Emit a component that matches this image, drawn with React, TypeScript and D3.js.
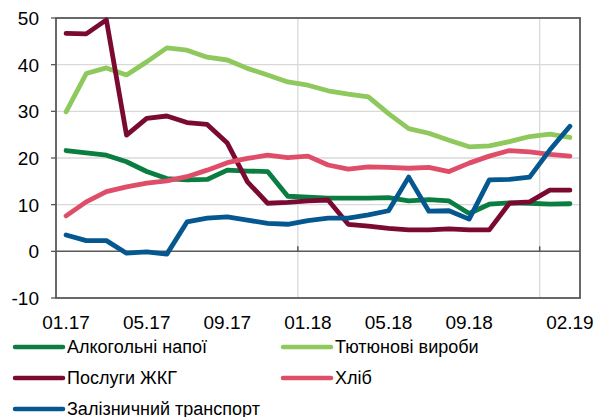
import React from 'react';
import * as d3 from 'd3';

const width = 597;
const height = 417;
const margin = { top: 18, right: 17, bottom: 119, left: 56 };

const months = [
  '01.17', '02.17', '03.17', '04.17', '05.17', '06.17', '07.17', '08.17', '09.17', '10.17', '11.17', '12.17',
  '01.18', '02.18', '03.18', '04.18', '05.18', '06.18', '07.18', '08.18', '09.18', '10.18', '11.18', '12.18',
  '01.19', '02.19'
];
const xTickLabels = ['01.17', '05.17', '09.17', '01.18', '05.18', '09.18', '02.19'];
const yearStarts = ['01.18', '01.19'];
const yTicks = [-10, 0, 10, 20, 30, 40, 50];

const alcohol = [21.6, 21.1, 20.6, 19.2, 17.1, 15.6, 15.3, 15.4, 17.4, 17.2, 17.1, 11.8, 11.6, 11.4, 11.4, 11.4, 11.5, 10.8, 11.1, 10.8, 8.1, 10.1, 10.4, 10.3, 10.1, 10.2];
const tobacco = [29.9, 38.1, 39.3, 37.8, 40.6, 43.6, 43.1, 41.6, 41.0, 39.2, 37.8, 36.3, 35.6, 34.4, 33.7, 33.1, 29.5, 26.3, 25.3, 23.8, 22.4, 22.6, 23.5, 24.6, 25.1, 24.4];
const utilities = [46.7, 46.6, 49.6, 24.9, 28.5, 29.0, 27.6, 27.2, 23.2, 14.9, 10.3, 10.5, 10.8, 11.0, 5.8, 5.4, 4.9, 4.6, 4.6, 4.8, 4.6, 4.6, 10.3, 10.6, 13.1, 13.1];
const bread = [7.6, 10.6, 12.8, 13.8, 14.6, 15.1, 16.0, 17.4, 19.0, 19.9, 20.6, 20.1, 20.4, 18.5, 17.6, 18.1, 18.0, 17.8, 18.0, 17.1, 18.9, 20.4, 21.6, 21.3, 20.8, 20.4];
const railway = [3.5, 2.3, 2.3, -0.4, -0.1, -0.6, 6.3, 7.1, 7.4, 6.7, 6.0, 5.8, 6.6, 7.1, 7.1, 7.8, 8.7, 15.9, 8.6, 8.7, 6.9, 15.3, 15.4, 15.9, 21.7, 26.8];

const series = [
  { name: 'Алкогольні напої', values: alcohol, color: '#0a7d40' },
  { name: 'Тютюнові вироби', values: tobacco, color: '#8fc85c' },
  { name: 'Послуги ЖКГ', values: utilities, color: '#7a0a32' },
  { name: 'Хліб', values: bread, color: '#df4e69' },
  { name: 'Залізничний транспорт', values: railway, color: '#05588f' }
];

const font = '"Liberation Sans", Arial, sans-serif';

export default function App() {
  const x = d3
    .scaleBand()
    .domain(months)
    .range([margin.left, width - margin.right])
    .padding(0);
  const y = d3
    .scaleLinear()
    .domain([-10, 50])
    .range([height - margin.bottom, margin.top]);
  const cx = (m: string) => (x(m) as number) + x.bandwidth() / 2;

  const line = d3
    .line<number>()
    .x((d, i) => cx(months[i]))
    .y(d => y(d));

  const left = margin.left;
  const right = width - margin.right;
  const top = margin.top;
  const bottom = height - margin.bottom;

  const legendRows = [347, 378, 409];
  const legendCols = [15, 283];

  return (
    <svg width={width} height={height} style={{ position: 'absolute', left: 0, top: 0, background: '#fff' }}>
      {/* grid */}
      {yTicks
        .filter(t => t !== 0 && t !== -10 && t !== 50)
        .map(t => (
          <line key={'gy' + t} x1={left} x2={right} y1={y(t)} y2={y(t)} stroke="#d9d9d9" strokeWidth={1.3} />
        ))}
      {yearStarts.map(m => (
        <line key={'gx' + m} x1={x(m)} x2={x(m)} y1={top} y2={bottom} stroke="#d9d9d9" strokeWidth={1.3} />
      ))}
      {/* zero axis */}
      <line x1={left} x2={right} y1={y(0)} y2={y(0)} stroke="#595959" strokeWidth={1.5} />
      {yearStarts.map(m => (
        <line key={'tk' + m} x1={x(m)} x2={x(m)} y1={y(0) - 5} y2={y(0)} stroke="#595959" strokeWidth={1.5} />
      ))}
      {/* frame */}
      <rect x={left} y={top} width={right - left} height={bottom - top} fill="none" stroke="#595959" strokeWidth={1.8} />
      {/* y labels */}
      {yTicks.map(t => (
        <line key={'yt' + t} x1={left - 5} x2={left} y1={y(t)} y2={y(t)} stroke="#595959" strokeWidth={1.3} />
      ))}
      {yTicks.map(t => (
        <text key={'yl' + t} x={39} y={y(t)} dy="0.36em" textAnchor="end" fontFamily={font} fontSize={19} fill="#000">
          {t}
        </text>
      ))}
      {/* x labels */}
      {xTickLabels.map(m => (
        <text key={'xl' + m} x={cx(m)} y={329} textAnchor="middle" fontFamily={font} fontSize={19} fill="#000">
          {m}
        </text>
      ))}
      {/* series */}
      {series.map(s => (
        <path
          key={s.name}
          d={line(s.values) as string}
          fill="none"
          stroke={s.color}
          strokeWidth={4.8}
          strokeLinejoin="round"
          strokeLinecap="round"
        />
      ))}
      {/* legend */}
      {series.map((s, i) => {
        const lx = legendCols[i % 2];
        const ly = legendRows[Math.floor(i / 2)];
        return (
          <g key={'lg' + s.name}>
            <line x1={lx} x2={lx + 48} y1={ly} y2={ly} stroke={s.color} strokeWidth={4.5} strokeLinecap="round" />
            <text x={lx + 52} y={ly} dy="0.36em" fontFamily={font} fontSize={18} fill="#000">
              {s.name}
            </text>
          </g>
        );
      })}
    </svg>
  );
}
